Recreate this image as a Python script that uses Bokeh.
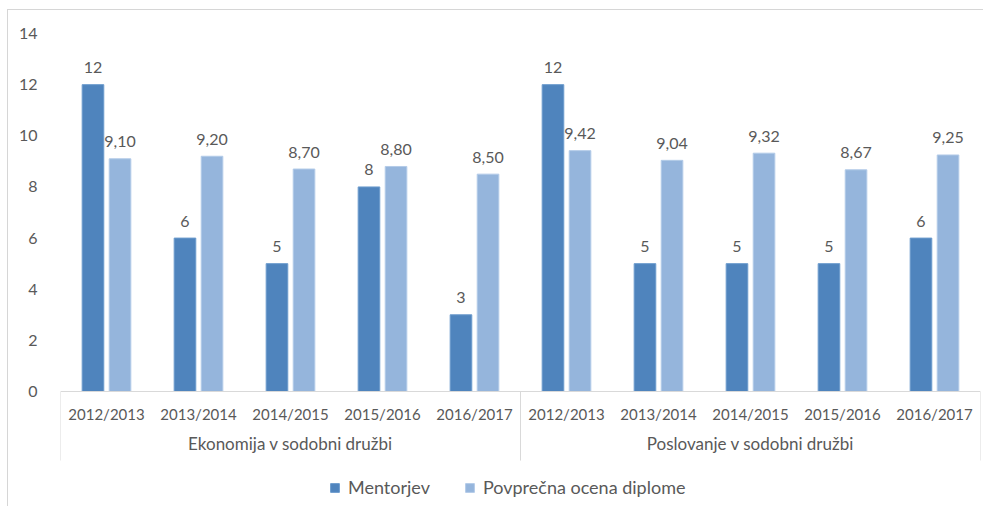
from bokeh.plotting import figure
from bokeh.models import FactorRange, Range1d, FixedTicker, Legend, LegendItem, ColumnDataSource
from bokeh.transform import dodge
from bokeh.core.properties import value
from bokeh.embed import file_html
from bokeh.resources import INLINE

groups = ["Ekonomija v sodobni družbi", "Poslovanje v sodobni družbi"]
years = ["2012/2013", "2013/2014", "2014/2015", "2015/2016", "2016/2017"]
mentorjev = [12, 6, 5, 8, 3, 12, 5, 5, 5, 6]
ocena = [9.10, 9.20, 8.70, 8.80, 8.50, 9.42, 9.04, 9.32, 8.67, 9.25]
y_ticks = [0, 2, 4, 6, 8, 10, 12, 14]
series_names = ["Mentorjev", "Povprečna ocena diplome"]

FONT = "Lato"
TXT = "#595959"
DARK = "#4F84BD"
LIGHT = "#95B5DC"

factors = [(g, y) for g in groups for y in years]
src = ColumnDataSource(dict(
    x=factors,
    m=mentorjev,
    o=ocena,
    m_lbl=[str(v) for v in mentorjev],
    o_lbl=[f"{v:.2f}".replace(".", ",") for v in ocena],
))

p = figure(
    x_range=FactorRange(*factors, range_padding=0, group_padding=0, subgroup_padding=0),
    y_range=Range1d(-4.536, 14.587),
    width=976, height=497,
    output_backend="svg", toolbar_location=None,
    min_border_left=52, min_border_right=4, min_border_top=8, min_border_bottom=0,
)
p.styles = {"margin-left": "8px", "margin-top": "10px",
            "box-shadow": "-1px -1px 0 0 #d6d6d6"}
p.outline_line_color = None
p.xgrid.grid_line_color = None
p.ygrid.grid_line_color = None

off = 0.147
r1 = p.vbar(x=dodge("x", -off, range=p.x_range), top="m", width=0.235, source=src,
            fill_color=DARK, line_color="#6C9BCD", line_width=1)
r2 = p.vbar(x=dodge("x", off, range=p.x_range), top="o", width=0.235, source=src,
            fill_color=LIGHT, line_color="#B3CBE8", line_width=1)

p.text(x=dodge("x", -off, range=p.x_range), y="m", text="m_lbl", source=src,
       text_align="center", text_baseline="alphabetic", y_offset=-17,
       text_font=value(FONT), text_font_size="16px", text_color=TXT)
p.text(x=dodge("x", off, range=p.x_range), y="o", text="o_lbl", source=src,
       text_align="center", text_baseline="alphabetic", y_offset=-17,
       text_font=value(FONT), text_font_size="16px", text_color=TXT)

# group separators below the category axis
sep_x = [(groups[0], years[0], -0.5), (groups[1], years[0], -0.5), (groups[1], years[-1], 0.5)]
p.segment(x0=sep_x, x1=sep_x, y0=[0, 0, 0], y1=[-2.7, -2.7, -2.7],
          line_color="#d9d9d9", line_width=1)

xa = p.xaxis[0]
xa.fixed_location = 0
xa.axis_line_color = "#d9d9d9"
xa.axis_line_width = 1
xa.major_tick_line_color = None
xa.minor_tick_line_color = None
xa.major_label_text_font = FONT
xa.major_label_text_font_size = "15px"
xa.major_label_text_color = TXT
xa.major_label_standoff = 7
xa.group_text_font = FONT
xa.group_text_font_size = "17px"
xa.group_text_font_style = "normal"
xa.group_text_color = TXT
xa.separator_line_color = None

ya = p.yaxis[0]
ya.ticker = FixedTicker(ticks=y_ticks)
ya.axis_line_color = None
ya.major_tick_line_color = None
ya.minor_tick_line_color = None
ya.major_label_text_font = FONT
ya.major_label_text_font_size = "16px"
ya.major_label_text_color = TXT
ya.major_label_standoff = 17

legend = Legend(
    items=[LegendItem(label=series_names[0], renderers=[r1]),
           LegendItem(label=series_names[1], renderers=[r2])],
    orientation="horizontal", location=(269, 9),
    border_line_color=None, background_fill_alpha=0,
    label_text_font=FONT, label_text_font_size="18px", label_text_color=TXT,
    glyph_width=11, glyph_height=11, label_standoff=8, spacing=34,
    padding=4, margin=0,
)
p.add_layout(legend, "center")

open("out.html", "w").write(file_html(p, INLINE))
